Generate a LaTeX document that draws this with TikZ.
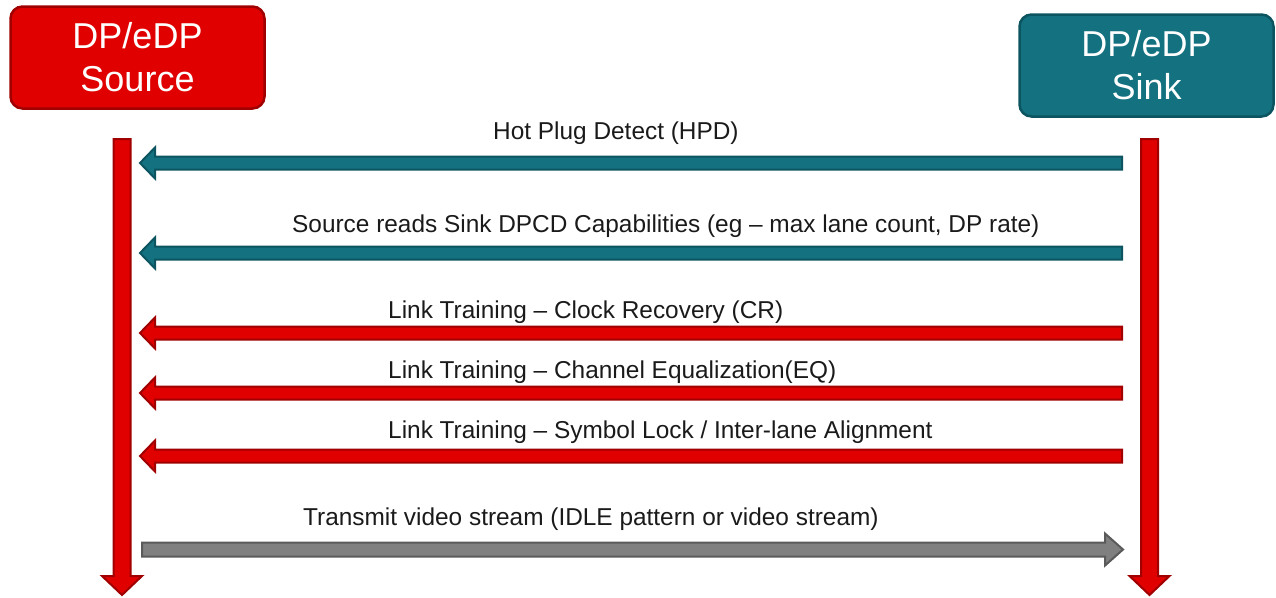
\documentclass[tikz,border=0pt]{standalone}
\usepackage{fontspec}
\setmainfont{Liberation Sans}
\usetikzlibrary{calc}
\definecolor{dpred}{HTML}{E00000}
\definecolor{dpredd}{HTML}{A00000}
\definecolor{dpteal}{HTML}{137180}
\definecolor{dpteald}{HTML}{0C5560}
\definecolor{dpgray}{HTML}{808080}
\definecolor{dpgrayd}{HTML}{5A5A5A}
\definecolor{dptext}{HTML}{1A1A1A}
\tikzset{
  box/.style={rounded corners=12pt, line width=2.5pt, minimum width=254pt,
    minimum height=102pt, text=white, align=center, inner sep=0pt,
    font=\fontsize{36}{43}\selectfont},
  lbl/.style={anchor=base west, inner sep=0pt, text=dptext,
    font=\fontsize{24.4}{29}\selectfont},
  redarr/.style={fill=dpred, draw=dpredd, line width=2pt, line join=miter},
  tealarr/.style={fill=dpteal, draw=dpteald, line width=2pt, line join=miter},
  grayarr/.style={fill=dpgray, draw=dpgrayd, line width=2pt, line join=miter},
}
% leftward block arrow: #1 style, #2 tail (right end), #3 tip (left end)
\newcommand\blkleft[3]{%
  \path[#1] let \p1=(#2), \p2=(#3) in
    (\p2) -- (\x2+15pt,\y2+15.5pt) -- (\x2+15pt,\y2+6.5pt) -- (\x1,\y2+6.5pt)
    -- (\x1,\y2-6.5pt) -- (\x2+15pt,\y2-6.5pt) -- (\x2+15pt,\y2-15.5pt) -- cycle;}
% rightward block arrow: #1 style, #2 tail (left end), #3 tip (right end)
\newcommand\blkright[3]{%
  \path[#1] let \p1=(#2), \p2=(#3) in
    (\p2) -- (\x2-18pt,\y2+16pt) -- (\x2-18pt,\y2+7pt) -- (\x1,\y2+7pt)
    -- (\x1,\y2-7pt) -- (\x2-18pt,\y2-7pt) -- (\x2-18pt,\y2-16pt) -- cycle;}
% downward block arrow: #1 style, #2 top, #3 tip
\newcommand\blkdown[3]{%
  \path[#1] let \p1=(#2), \p2=(#3) in
    (\p2) -- (\x2-20pt,\y2+19pt) -- (\x2-8.5pt,\y2+19pt) -- (\x1-8.5pt,\y1)
    -- (\x1+8.5pt,\y1) -- (\x2+8.5pt,\y2+19pt) -- (\x2+20pt,\y2+19pt) -- cycle;}
\begin{document}
\begin{tikzpicture}[x=1pt,y=-1pt]
\useasboundingbox (0,0) rectangle (1276,597);

% actor boxes
\node[box, fill=dpred, draw=dpredd] (src) at (137.5,57.5) {DP/eDP\\Source};
\node[box, fill=dpteal, draw=dpteald] (snk) at (1146.5,65.5) {DP/eDP\\Sink};

% lifelines
\coordinate (srcTop) at (122,139);
\coordinate (srcEnd) at (122,595);
\coordinate (snkTop) at (1149.5,139);
\coordinate (snkEnd) at (1149.5,595);
\blkdown{redarr}{srcTop}{srcEnd}
\blkdown{redarr}{snkTop}{snkEnd}

% messages
\coordinate (m1s) at (1122,163);  \coordinate (m1t) at (140,163);
\coordinate (m2s) at (1122,253);  \coordinate (m2t) at (140,253);
\coordinate (m3s) at (1122,333);  \coordinate (m3t) at (140,333);
\coordinate (m4s) at (1122,393);  \coordinate (m4t) at (140,393);
\coordinate (m5s) at (1122,456);  \coordinate (m5t) at (140,456);
\coordinate (m6s) at (142,549.5); \coordinate (m6t) at (1123,549.5);

\blkleft{tealarr}{m1s}{m1t}
\blkleft{tealarr}{m2s}{m2t}
\blkleft{redarr}{m3s}{m3t}
\blkleft{redarr}{m4s}{m4t}
\blkleft{redarr}{m5s}{m5t}
\blkright{grayarr}{m6s}{m6t}

% labels
\node[lbl] (l1) at (493,139) {Hot Plug Detect (HPD)};
\node[lbl] (l2) at (292,232) {Source reads Sink DPCD Capabilities (eg – max lane count, DP rate)};
\node[lbl] (l3) at (388,318) {Link Training – Clock Recovery (CR)};
\node[lbl] (l4) at (388,378) {Link Training – Channel Equalization(EQ)};
\node[lbl] (l5) at (388,438) {Link Training – Symbol Lock / Inter-lane Alignment};
\node[lbl] (l6) at (303,525) {Transmit video stream (IDLE pattern or video stream)};
\end{tikzpicture}
\end{document}
